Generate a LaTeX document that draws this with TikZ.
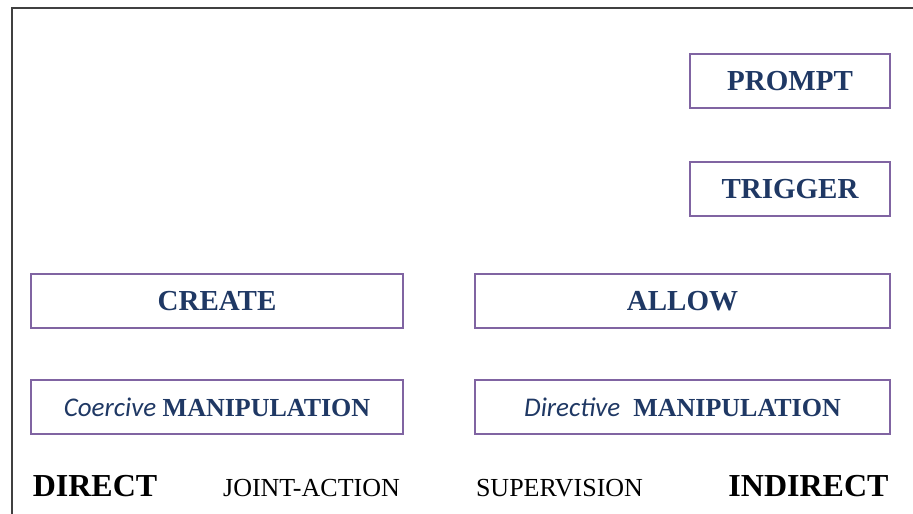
\documentclass[tikz,border=0pt]{standalone}
\usepackage{fontspec}
\setmainfont{Liberation Serif}
\newfontfamily\calibri{Carlito}
\definecolor{boxpurple}{RGB}{128,100,162}
\definecolor{textblue}{RGB}{31,56,100}
\begin{document}
\begin{tikzpicture}[x=1pt, y=-1pt, % Koordinaten in Pixeln
  kasten/.style={draw=boxpurple, line width=1.3pt, minimum height=54pt, inner sep=0pt,
    text=textblue, font=\fontsize{29}{34}\selectfont\bfseries},
  manip/.style={kasten, font=\fontsize{26}{30}\selectfont\bfseries},
  pol/.style={anchor=base, inner sep=0pt, font=\fontsize{32}{36}\selectfont\bfseries},
  mitte/.style={anchor=base, inner sep=0pt, font=\fontsize{26}{30}\selectfont}]
\useasboundingbox (0,0) rectangle (913,514);
% Rahmen
\draw[line width=2pt, black!75] (12,514) -- (12,8) -- (913,8);
% Kaesten rechts oben
\node[kasten, minimum width=200pt] (prompt) at (790,81) {PROMPT};
\node[kasten, minimum width=200pt] (trigger) at (790,189) {TRIGGER};
% Kaesten links und rechts
\node[kasten, minimum width=372pt] (create) at (217,301) {CREATE};
\node[kasten, minimum width=415pt] (allow) at (682.5,301) {ALLOW};
\node[manip, minimum width=372pt] (coercive) at (217,407) {{\calibri\mdseries\itshape\fontsize{27}{30}\selectfont Coercive} MANIPULATION};
\node[manip, minimum width=415pt] (directive) at (682.5,407) {{\calibri\mdseries\itshape\fontsize{27}{30}\selectfont Directive}\ \ MANIPULATION};
% Beschriftung unten
\node[pol] (direct) at (95,496) {DIRECT};
\node[mitte] (joint) at (311.5,496) {JOINT-ACTION};
\node[mitte] (superv) at (559.5,496) {SUPERVISION};
\node[pol] (indirect) at (808.5,496) {INDIRECT};
\end{tikzpicture}
\end{document}
